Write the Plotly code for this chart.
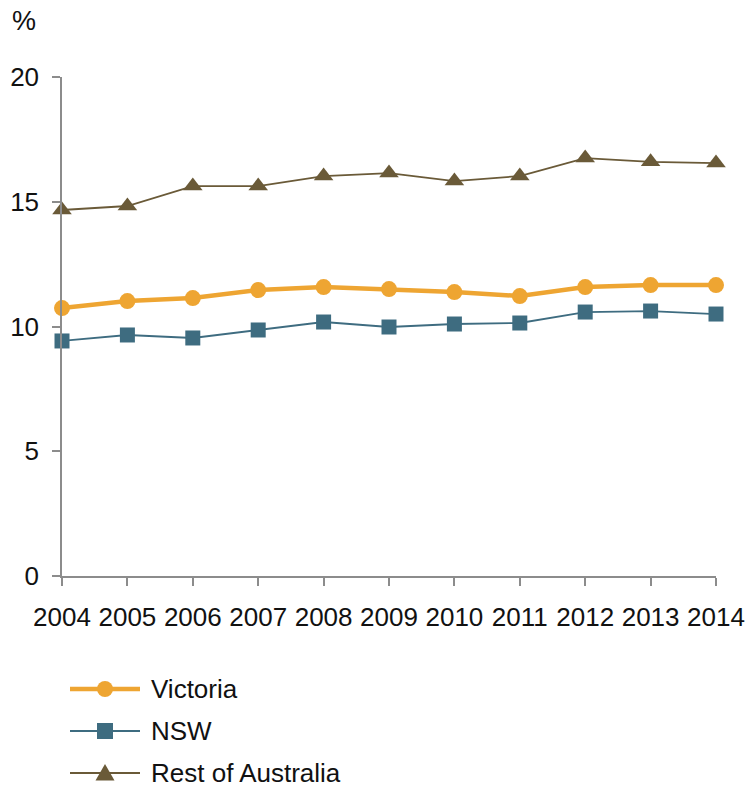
import plotly.graph_objects as go

years = [2004, 2005, 2006, 2007, 2008, 2009, 2010, 2011, 2012, 2013, 2014]
victoria = [10.74, 11.02, 11.14, 11.46, 11.58, 11.50, 11.38, 11.22, 11.58, 11.66, 11.66]
nsw = [9.42, 9.66, 9.54, 9.86, 10.18, 9.98, 10.10, 10.14, 10.58, 10.62, 10.50]
rest_of_australia = [14.67, 14.83, 15.63, 15.63, 16.03, 16.15, 15.83, 16.03, 16.75, 16.60, 16.55]
y_ticks = [0, 5, 10, 15, 20]

font_family = "Liberation Sans, Arial, sans-serif"
W, H = 747, 787
ML, MR, MT, MB = 62, 31, 77, 211
PW, PH = W - ML - MR, H - MT - MB

series = [
    dict(name="Victoria", y=victoria, color="#EEA532", width=4.5, symbol="circle", size=16),
    dict(name="NSW", y=nsw, color="#3E6C80", width=1.8, symbol="square", size=15),
    dict(name="Rest of Australia", y=rest_of_australia, color="#6A5A38", width=1.8, symbol="triangle-up", size=17),
]

fig = go.Figure()
for s in series:
    fig.add_trace(go.Scatter(
        x=years, y=s["y"], name=s["name"], mode="lines+markers",
        line=dict(color=s["color"], width=s["width"]),
        marker=dict(symbol=s["symbol"], size=s["size"], color=s["color"]),
        cliponaxis=False, showlegend=False,
    ))


def px_x(p):
    return (p - ML) / PW


def px_y(p):
    return (H - MB - p) / PH


def key_marker(symbol, cx, cy, color):
    # Legend key glyph, sized in pixels around an anchor point
    base = dict(xref="paper", yref="paper", xsizemode="pixel", ysizemode="pixel",
                xanchor=cx, yanchor=cy, fillcolor=color, line=dict(width=0))
    if symbol == "circle":
        return dict(type="circle", x0=-8, x1=8, y0=-8, y1=8, **base)
    if symbol == "square":
        return dict(type="rect", x0=-8, x1=8, y0=-8, y1=8, **base)
    return dict(type="path", path="M-9.5,-7.5 L9.5,-7.5 L0,9 Z", **base)


# Hand-built legend below the chart: long key lines with a marker in the middle
legend_rows = [689, 731, 773]
shapes = []
annotations = []
for s, row in zip(series, legend_rows):
    shapes.append(dict(
        type="line", xref="paper", yref="paper",
        x0=px_x(70), x1=px_x(140), y0=px_y(row), y1=px_y(row),
        line=dict(color=s["color"], width=s["width"]),
    ))
    shapes.append(key_marker(s["symbol"], px_x(105), px_y(row), s["color"]))
    annotations.append(dict(
        text=s["name"], xref="paper", yref="paper",
        x=px_x(150), y=px_y(row), xanchor="left", yanchor="middle",
        showarrow=False, borderpad=0, font=dict(size=26, color="#111111"),
    ))

annotations.append(dict(
    text="%", xref="paper", yref="paper", x=px_x(10), y=px_y(4),
    xanchor="left", yanchor="top", showarrow=False,
    font=dict(size=27, color="#111111"),
))

axis_common = dict(
    showgrid=False, zeroline=False, automargin=False,
    showline=True, linecolor="#8C8C8C", linewidth=1.5,
    ticks="outside", ticklen=8, tickcolor="#8C8C8C", tickwidth=1.5,
    tickfont=dict(size=26, color="#111111"),
)

fig.update_layout(
    width=W, height=H,
    margin=dict(l=ML, r=MR, t=MT, b=MB, autoexpand=False),
    plot_bgcolor="white", paper_bgcolor="white",
    font=dict(family=font_family, size=26, color="#111111"),
    showlegend=False,
    xaxis=dict(range=[2004, 2014], tickmode="array", tickvals=years,
               ticktext=[str(y) for y in years], ticklabelstandoff=9,
               **axis_common),
    yaxis=dict(range=[0, 20], tickmode="array", tickvals=y_ticks,
               ticklabelstandoff=8, **axis_common),
    shapes=shapes,
    annotations=annotations,
)

fig.write_html("out.html")
